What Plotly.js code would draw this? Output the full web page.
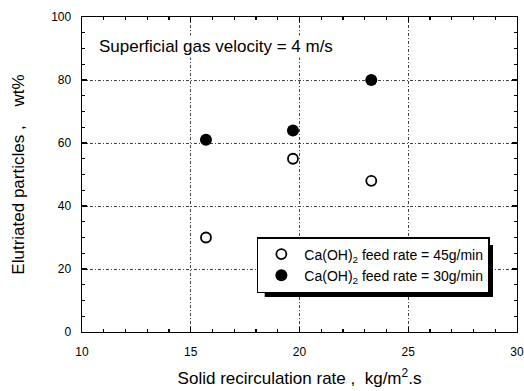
<!DOCTYPE html>
<html>
<head>
<meta charset="utf-8">
<script src="https://cdn.plot.ly/plotly-3.0.1.min.js"></script>
<style>
  html, body { margin: 0; padding: 0; background: #fff; }
  #chart { width: 524px; height: 391px; }
</style>
</head>
<body>
<div id="chart"></div>
<script>
// Solid recirculation rate (kg/m2.s) for each run
const recirculationRate = [15.7, 19.7, 23.3];
// Elutriated particles (wt%) at each Ca(OH)2 feed rate
const feed45 = [30, 55, 48];
const feed30 = [61, 64, 80];
const seriesNames = [
  'Ca(OH)<sub>2</sub> feed rate = 45g/min',
  'Ca(OH)<sub>2</sub> feed rate = 30g/min'
];
const xTicks = [10, 15, 20, 25, 30];
const yTicks = [0, 20, 40, 60, 80, 100];

const font = 'Liberation Sans, Arial, Helvetica, sans-serif';

const traces = [
  {
    x: recirculationRate, y: feed45, name: seriesNames[0],
    type: 'scatter', mode: 'markers',
    marker: { symbol: 'circle-open', size: 10, color: '#000', line: { width: 1.8, color: '#000' } }
  },
  {
    x: recirculationRate, y: feed30, name: seriesNames[1],
    type: 'scatter', mode: 'markers',
    marker: { symbol: 'circle', size: 12, color: '#000' }
  }
];

const axisCommon = {
  showline: true, linecolor: '#000', linewidth: 1.4, mirror: 'ticks',
  ticks: 'inside', ticklen: 5, tickcolor: '#000', tickwidth: 1.2,
  showgrid: true, gridcolor: '#444', gridwidth: 1, griddash: '3px,2px,1px,2px',
  zeroline: false,
  tickfont: { family: font, size: 12, color: '#000' }
};

const layout = {
  width: 524, height: 391,
  margin: { l: 82, r: 7, t: 17, b: 59 },
  paper_bgcolor: '#fff', plot_bgcolor: '#fff',
  showlegend: true,
  xaxis: Object.assign({}, axisCommon, {
    range: [10, 30], tickvals: xTicks, ticktext: xTicks.map(String),
    ticklabelstandoff: 8,
    minor: { dtick: 1, ticks: 'inside', ticklen: 3, tickcolor: '#000', showgrid: false },
    title: { text: 'Solid recirculation rate ,  kg/m<sup>2</sup>.s', font: { family: font, size: 17, color: '#000' }, standoff: 14 }
  }),
  yaxis: Object.assign({}, axisCommon, {
    range: [0, 100], tickvals: yTicks, ticktext: yTicks.map(String),
    ticklabelstandoff: 7,
    minor: { dtick: 5, ticks: 'inside', ticklen: 3, tickcolor: '#000', showgrid: false },
    title: { text: 'Elutriated particles ,    wt%', font: { family: font, size: 17, color: '#000' }, standoff: 22 }
  }),
  legend: {
    x: 0.402, y: 0.1238, xanchor: 'left', yanchor: 'bottom',
    bgcolor: '#fff', bordercolor: '#000', borderwidth: 1.5,
    font: { family: font, size: 14, color: '#000' },
    tracegroupgap: 0, itemwidth: 36
  },
  shapes: [
    // drop shadow offset below and right of the legend box
    { type: 'rect', xref: 'paper', yref: 'paper', layer: 'above',
      x0: 0.42, x1: 0.9448, y0: 0.111, y1: 0.276,
      fillcolor: '#000', line: { width: 0 } }
  ],
  annotations: [
    { text: 'Superficial gas velocity = 4 m/s', xref: 'paper', yref: 'paper',
      x: 0.035, y: 0.905, xanchor: 'left', yanchor: 'middle', showarrow: false,
      font: { family: font, size: 17, color: '#000' }, bgcolor: '#fff' }
  ]
};

Plotly.newPlot('chart', traces, layout, { staticPlot: true, displayModeBar: false });
</script>
</body>
</html>
